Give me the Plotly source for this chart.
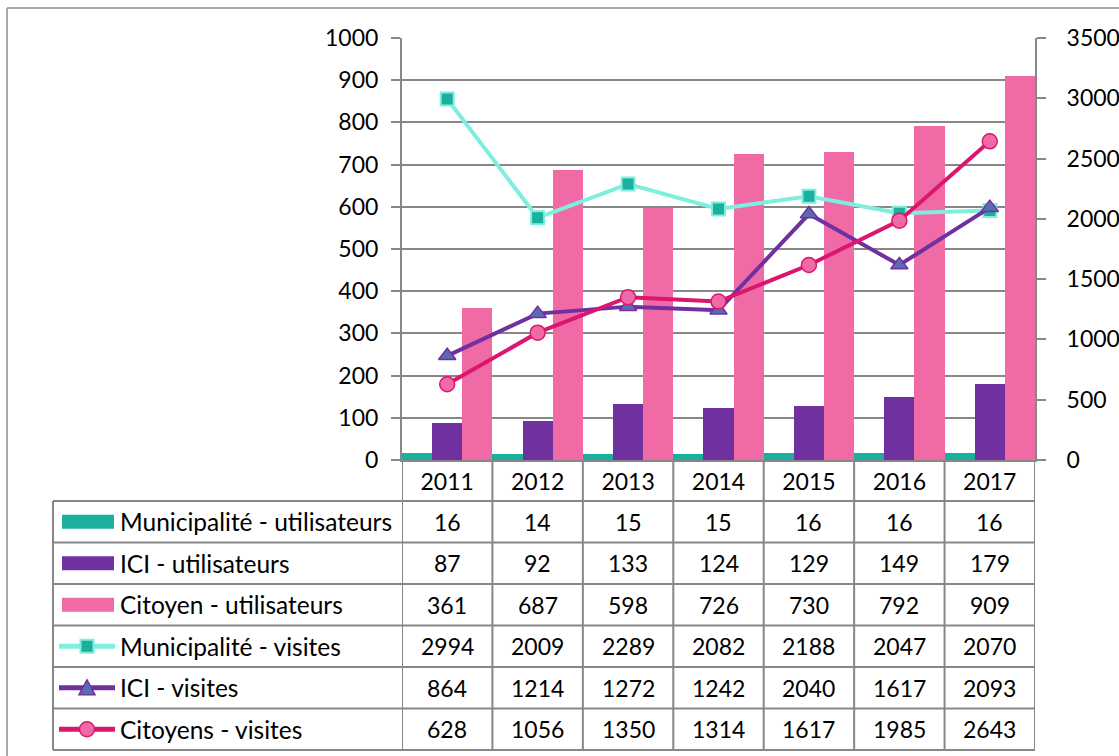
import plotly.graph_objects as go

W, H = 1119, 756

years = ["2011", "2012", "2013", "2014", "2015", "2016", "2017"]
muni_users = [16, 14, 15, 15, 16, 16, 16]
ici_users = [87, 92, 133, 124, 129, 149, 179]
citoyen_users = [361, 687, 598, 726, 730, 792, 909]
muni_visits = [2994, 2009, 2289, 2082, 2188, 2047, 2070]
ici_visits = [864, 1214, 1272, 1242, 2040, 1617, 2093]
citoyens_visits = [628, 1056, 1350, 1314, 1617, 1985, 2643]

names = ["Municipalité - utilisateurs", "ICI - utilisateurs", "Citoyen - utilisateurs",
         "Municipalité - visites", "ICI - visites", "Citoyens - visites"]
series = [muni_users, ici_users, citoyen_users, muni_visits, ici_visits, citoyens_visits]

TEAL = "#1AB09B"
PURPLE = "#7030A0"
PINK = "#F06AA6"
AQUA = "#80EEDF"
TRI = "#5B6BAF"
CRIMSON = "#DA166F"
GRID = "#878787"
FONT = "Lato"
FS = 23

# plot area in pixels
PX0, PX1 = 402, 1035
PY0, PY1 = 38, 460  # top, bottom


def px(x):
    return x / W


def py(y):
    return 1 - y / H


fig = go.Figure()
fig.add_trace(go.Bar(x=years, y=muni_users, name=names[0], marker=dict(color=TEAL, line=dict(width=0))))
fig.add_trace(go.Bar(x=years, y=ici_users, name=names[1], marker=dict(color=PURPLE, line=dict(width=0))))
fig.add_trace(go.Bar(x=years, y=citoyen_users, name=names[2], marker=dict(color=PINK, line=dict(width=0))))

fig.add_trace(go.Scatter(x=years, y=muni_visits, name=names[3], yaxis="y2", mode="lines+markers",
                         line=dict(color=AQUA, width=4),
                         marker=dict(symbol="square", size=13, color=TEAL, line=dict(color=AQUA, width=2))))
fig.add_trace(go.Scatter(x=years, y=ici_visits, name=names[4], yaxis="y2", mode="lines+markers",
                         line=dict(color=PURPLE, width=4),
                         marker=dict(symbol="triangle-up", size=15, color=TRI, line=dict(color=PURPLE, width=1.5))))
fig.add_trace(go.Scatter(x=years, y=citoyens_visits, name=names[5], yaxis="y2", mode="lines+markers",
                         line=dict(color=CRIMSON, width=4),
                         marker=dict(symbol="circle", size=15, color=PINK, line=dict(color=CRIMSON, width=1.5))))

shapes = []
annotations = []

# outer chart border (top and left)
shapes.append(dict(type="line", xref="paper", yref="paper", x0=px(7), x1=px(W + 5), y0=py(8), y1=py(8),
                   line=dict(color="#8c8c8c", width=1.5)))
shapes.append(dict(type="line", xref="paper", yref="paper", x0=px(7), x1=px(7), y0=py(8), y1=py(H + 5),
                   line=dict(color="#8c8c8c", width=1.5)))

# data table grid
TOP = 501
ROW_H = (750 - TOP) / 6
row_edges = [TOP + i * ROW_H for i in range(7)]
for yy in row_edges:
    shapes.append(dict(type="line", xref="paper", yref="paper", x0=px(53), x1=px(PX1), y0=py(yy), y1=py(yy),
                       line=dict(color=GRID, width=2)))
shapes.append(dict(type="line", xref="paper", yref="paper", x0=px(53), x1=px(53), y0=py(TOP), y1=py(750),
                   line=dict(color=GRID, width=2)))
for i in range(len(years) + 1):
    shapes.append(dict(type="line", xref="x", yref="paper", x0=i - 0.5, x1=i - 0.5, y0=py(PY1), y1=py(750),
                       line=dict(color=GRID, width=2)))

# table rows: keys, labels, values
for r, (nm, vals) in enumerate(zip(names, series)):
    cy = TOP + (r + 0.5) * ROW_H
    if r < 3:
        col = [TEAL, PURPLE, PINK][r]
        shapes.append(dict(type="rect", xref="paper", yref="paper", x0=px(62), x1=px(114),
                           y0=py(cy - 7), y1=py(cy + 7), fillcolor=col, line=dict(width=0)))
    else:
        lc = [AQUA, PURPLE, CRIMSON][r - 3]
        shapes.append(dict(type="line", xref="paper", yref="paper", x0=px(59), x1=px(115),
                           y0=py(cy), y1=py(cy), line=dict(color=lc, width=5)))
        mx = 87
        if r == 3:
            shapes.append(dict(type="rect", xref="paper", yref="paper", x0=px(mx - 6.5), x1=px(mx + 6.5),
                               y0=py(cy - 6.5), y1=py(cy + 6.5), fillcolor=TEAL, line=dict(color=AQUA, width=2)))
        elif r == 4:
            path = "M {} {} L {} {} L {} {} Z".format(px(mx - 8), py(cy + 7), px(mx + 8), py(cy + 7), px(mx), py(cy - 8))
            shapes.append(dict(type="path", xref="paper", yref="paper", path=path, fillcolor=TRI,
                               line=dict(color=PURPLE, width=1.5)))
        else:
            shapes.append(dict(type="circle", xref="paper", yref="paper", x0=px(mx - 7.5), x1=px(mx + 7.5),
                               y0=py(cy - 7.5), y1=py(cy + 7.5), fillcolor=PINK, line=dict(color=CRIMSON, width=1.5)))
    annotations.append(dict(text=nm, xref="paper", yref="paper", x=px(118), y=py(cy), xanchor="left",
                            yanchor="middle", showarrow=False, font=dict(family=FONT, size=24.5, color="black")))
    for i, v in enumerate(vals):
        annotations.append(dict(text=str(v), xref="x", yref="paper", x=i, y=py(cy), xanchor="center",
                                yanchor="middle", showarrow=False, font=dict(family=FONT, size=FS, color="black")))

fig.update_layout(
    width=W, height=H,
    margin=dict(l=0, r=0, t=0, b=0, pad=0),
    paper_bgcolor="white", plot_bgcolor="white",
    barmode="group", bargap=0, bargroupgap=0,
    showlegend=False,
    font=dict(family=FONT, size=FS, color="black"),
    xaxis=dict(domain=[px(PX0), px(PX1)], type="category", range=[-0.5, len(years) - 0.5], autorange=False,
               showline=True, linecolor=GRID, linewidth=2,
               ticks="", showgrid=False, automargin=False, tickfont=dict(family=FONT, size=FS, color="black")),
    yaxis=dict(domain=[py(PY1), py(PY0)], range=[0, 1000], dtick=100, showgrid=True, gridcolor=GRID, gridwidth=2,
               showline=True, linecolor=GRID, linewidth=2, ticks="outside", ticklen=9, tickwidth=2, tickcolor=GRID,
               zeroline=False, automargin=False, ticklabelstandoff=8,
               tickfont=dict(family=FONT, size=FS, color="black")),
    yaxis2=dict(overlaying="y", side="right", anchor="x", range=[0, 3500], dtick=500, showgrid=False,
                showline=True, linecolor=GRID, linewidth=2, ticks="outside", ticklen=9, tickwidth=2, tickcolor=GRID,
                zeroline=False, automargin=False, ticklabelstandoff=16,
                tickfont=dict(family=FONT, size=FS, color="black")),
    shapes=shapes,
    annotations=annotations,
)

fig.write_html("out.html", config={"displayModeBar": False},
               post_script="document.body.style.margin='0';document.body.style.overflow='hidden';")
